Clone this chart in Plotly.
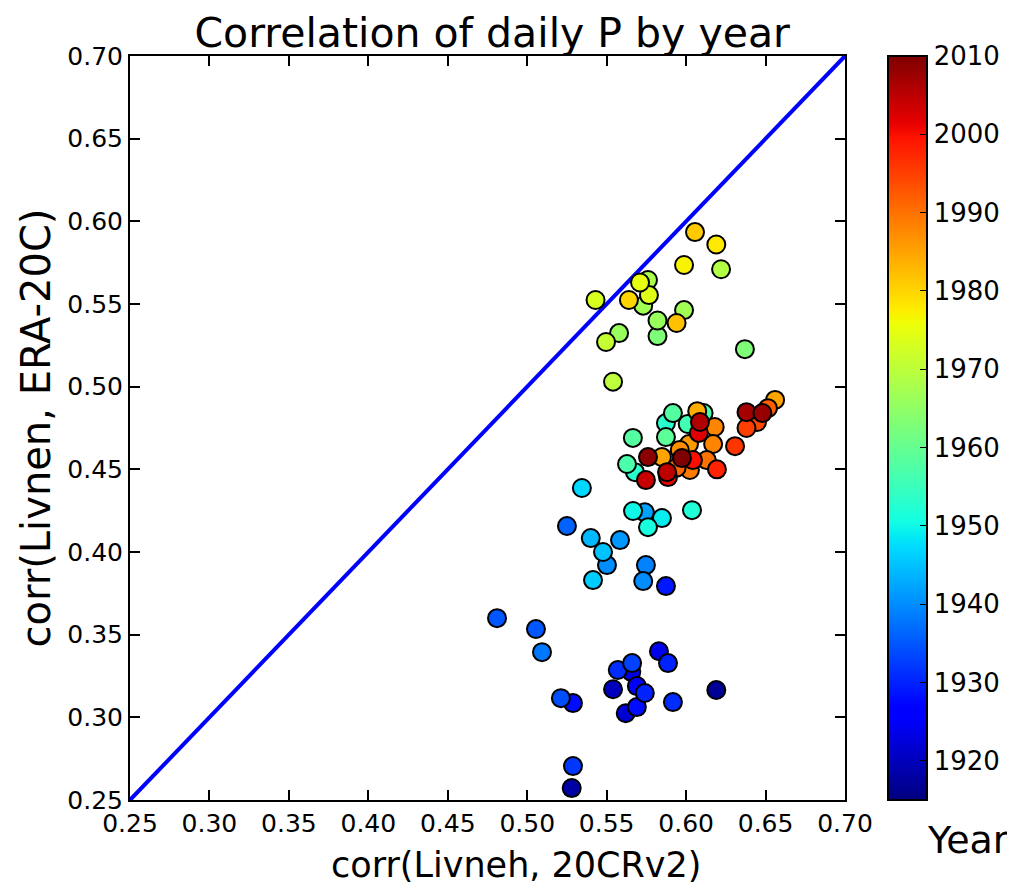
import numpy as np
import plotly.graph_objects as go

# values
corr_20cr = [
    0.6056, 0.5987, 0.576, 0.571, 0.5766, 0.564, 0.573, 0.543, 0.5987, 0.594,
    0.582, 0.582, 0.5578, 0.5496, 0.554, 0.619, 0.622, 0.637,
    0.656, 0.6515, 0.648, 0.638, 0.638, 0.6446, 0.6308, 0.607, 0.611, 0.618,
    0.6087, 0.608, 0.601, 0.5917, 0.5873, 0.5873, 0.617, 0.6018, 0.596, 0.5848,
    0.576, 0.5665, 0.5628, 0.5678, 0.5747, 0.5886, 0.5974, 0.6043, 0.613, 0.6194,
    0.6024, 0.594, 0.588, 0.5344,
    0.5666, 0.574, 0.5848, 0.576, 0.6037, 0.525, 0.540, 0.5584, 0.5477, 0.5502,
    0.5747, 0.5414, 0.573, 0.5873,
    0.481, 0.5055, 0.5093, 0.5212, 0.5288, 0.554, 0.557, 0.566, 0.5655, 0.569,
    0.574, 0.569, 0.562, 0.5829, 0.5886, 0.5917, 0.5288, 0.528, 0.619,
]
corr_era = [
    0.5935, 0.5736, 0.5645, 0.563, 0.5554, 0.5524, 0.549, 0.5524, 0.5463, 0.5385,
    0.540, 0.5306, 0.5324, 0.527, 0.503, 0.586, 0.571, 0.5227,
    0.492, 0.487, 0.484, 0.4846, 0.475, 0.4786, 0.464, 0.4852, 0.484, 0.4756,
    0.4786, 0.472, 0.4774, 0.484, 0.478, 0.4695, 0.4653, 0.4653, 0.4617, 0.4574,
    0.4574, 0.469, 0.4532, 0.4483, 0.4435, 0.4453, 0.4568, 0.4556, 0.4556, 0.450,
    0.4496, 0.451, 0.4483, 0.4387,
    0.4248, 0.424, 0.4205, 0.415, 0.4253, 0.4157, 0.4084, 0.4072, 0.400, 0.3921,
    0.3921, 0.383, 0.3824, 0.3794,
    0.360, 0.3534, 0.3394, 0.3116, 0.3086, 0.317, 0.3286, 0.3328, 0.3275, 0.3189,
    0.3147, 0.3062, 0.3025, 0.340, 0.3328, 0.3092, 0.2705, 0.2572, 0.3165,
]
years = [
    1981, 1977, 1968, 1975, 1974, 1980, 1967, 1973, 1967, 1982,
    1966, 1963, 1966, 1971, 1970, 1978, 1969, 1963,
    1985, 1992, 2008, 2007, 1995, 1994, 1996, 1984, 1957, 1988,
    2006, 2002, 1956, 1958, 1953, 1959, 1988, 1986, 1987, 1985,
    2009, 1958, 1957, 1953, 2004, 2001, 2010, 2000, 1990, 1998,
    1989, 1991, 2005, 1947,
    1950, 1942, 1949, 1951, 1952, 1936, 1944, 1941, 1945, 1940,
    1939, 1946, 1940, 1929,
    1935, 1935, 1938, 1934, 1928, 1920, 1931, 1933, 1924, 1927,
    1930, 1928, 1922, 1924, 1930, 1931, 1932, 1918, 1917,
]
year_ticks = [1920, 1930, 1940, 1950, 1960, 1970, 1980, 1990, 2000, 2010]
axis_ticks = [0.25, 0.30, 0.35, 0.40, 0.45, 0.50, 0.55, 0.60, 0.65, 0.70]

# matplotlib "jet" as a plotly colorscale
stops = [0, 0.11, 0.125, 0.34, 0.35, 0.375, 0.64, 0.65, 0.66, 0.89, 0.91, 1]
r = np.interp(stops, [0, 0.35, 0.66, 0.89, 1], [0, 0, 1, 1, 0.5])
g = np.interp(stops, [0, 0.125, 0.375, 0.64, 0.91, 1], [0, 0, 1, 1, 0, 0])
b = np.interp(stops, [0, 0.11, 0.34, 0.65, 1], [0.5, 1, 1, 0, 0])
jet = [[s, f"rgb({int(rr*255)},{int(gg*255)},{int(bb*255)})"] for s, rr, gg, bb in zip(stops, r, g, b)]

order = np.argsort(years, kind="stable")
x = np.array(corr_20cr)[order]
y = np.array(corr_era)[order]
c = np.array(years)[order]

font = "DejaVu Sans"
fig = go.Figure()
fig.add_trace(go.Scatter(
    x=[0.25, 0.70], y=[0.25, 0.70], mode="lines",
    line=dict(color="rgb(0,0,255)", width=4), showlegend=False, hoverinfo="skip",
))
fig.add_trace(go.Scatter(
    x=x, y=y, mode="markers", showlegend=False,
    marker=dict(
        size=18, color=c, colorscale=jet, cmin=1915, cmax=2010,
        line=dict(color="black", width=2),
        colorbar=dict(
            x=1.06, xanchor="left", xpad=0, y=0.5, len=1.0, ypad=0,
            thickness=39, outlinewidth=2, outlinecolor="black",
            tickvals=year_ticks, ticks="inside", ticklen=8, tickcolor="black",
            tickfont=dict(size=26, family=font, color="black"),
        ),
    ),
))
axis_common = dict(
    range=[0.25, 0.70], tickvals=axis_ticks, tickformat=".2f",
    ticks="inside", ticklen=10, tickwidth=1.5, tickcolor="black",
    mirror="allticks", showline=True, linecolor="black", linewidth=2,
    showgrid=False, zeroline=False,
    tickfont=dict(size=25, family=font, color="black"),
)
fig.update_xaxes(**axis_common)
fig.update_yaxes(**axis_common, title=dict(text="corr(Livnen, ERA-20C)", font=dict(size=40, family=font, color="black"), standoff=4))
fig.add_annotation(
    text="corr(Livneh, 20CRv2)", x=0.54, y=-0.088, xref="paper", yref="paper", showarrow=False,
    font=dict(size=35, family=font, color="black"), xanchor="center", yanchor="middle",
)
fig.add_annotation(
    text="Year", x=1.172, y=-0.054, xref="paper", yref="paper", showarrow=False,
    font=dict(size=38, family=font, color="black"), xanchor="center", yanchor="middle",
)
fig.update_layout(
    width=1015, height=878,
    margin=dict(l=122, r=178, t=48, b=86),
    plot_bgcolor="white", paper_bgcolor="white",
    title=dict(text="Correlation of daily P by year", x=0.477, xanchor="center", y=0.9715, yanchor="middle",
               font=dict(size=41, family=font, color="black")),
)
fig.write_html("out.html")
